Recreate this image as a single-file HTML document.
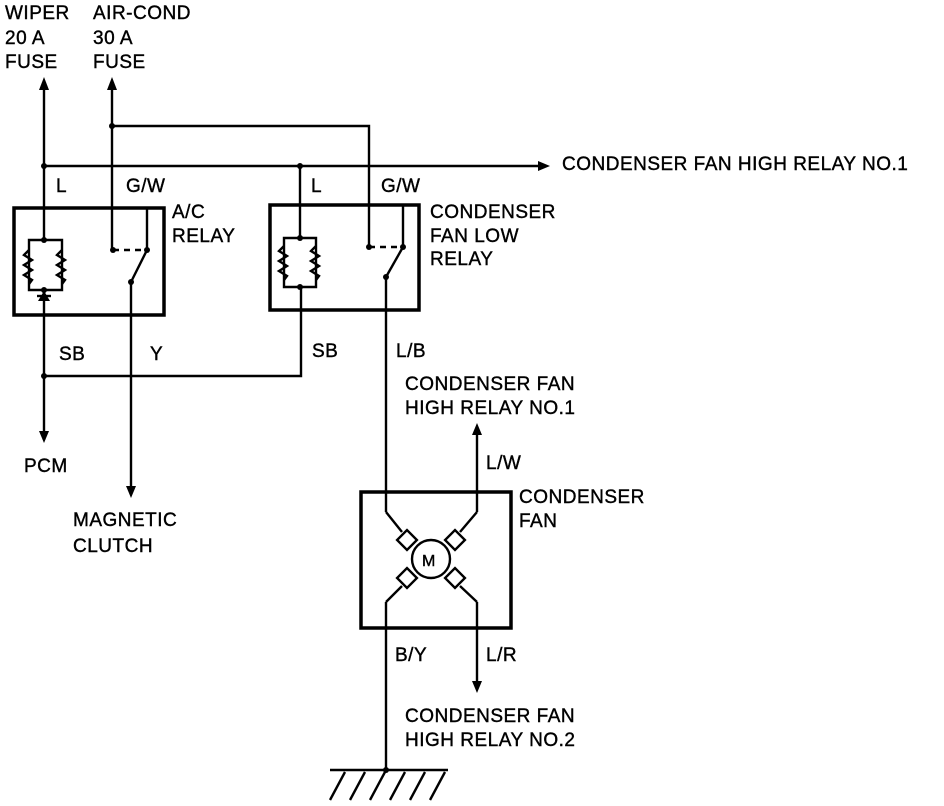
<!DOCTYPE html>
<html><head><style>
html,body{margin:0;padding:0;background:#fff;}
svg{display:block;}
text{font-family:"Liberation Sans",sans-serif;font-size:19px;letter-spacing:0.5px;fill:#000;stroke:#000;stroke-width:0.4px;}
</style></head><body>
<svg width="944" height="806" viewBox="0 0 944 806" xmlns="http://www.w3.org/2000/svg">
<g stroke="#000" stroke-width="2.4" fill="none">
<line x1="44" y1="88" x2="44" y2="240"/>
<line x1="112" y1="88" x2="112" y2="250"/>
<polyline points="112,126 369,126 369,247"/>
<line x1="44" y1="166" x2="540" y2="166"/>
<line x1="300" y1="166" x2="300" y2="238"/>
<rect x="14" y="208" width="150" height="107" stroke-width="3.5"/>
<polyline points="44,240 29,240 29,290 44,290"/>
<polyline points="44,240 62,240 62,290 44,290"/>
<polyline points="29,250 24,255 32,260 24,265 32,270 24,275 32,280 29,284"/>
<polyline points="62,250 57,255 65,260 57,265 65,270 57,275 65,280 62,284"/>
<line x1="44" y1="290" x2="44" y2="440"/>
<line x1="37" y1="296" x2="51" y2="296"/>
<line x1="113" y1="250" x2="147" y2="250" stroke-dasharray="6,5"/>
<line x1="147" y1="208" x2="147" y2="250"/>
<line x1="147" y1="250" x2="131" y2="282"/>
<line x1="131" y1="282" x2="131" y2="494"/>
<polyline points="44,376 301,376 301,287"/>
<rect x="270" y="205" width="149" height="105" stroke-width="3.5"/>
<polyline points="300,238 284,238 284,287 300,287"/>
<polyline points="300,238 316,238 316,287 300,287"/>
<polyline points="284,246 279,251 287,256 279,261 287,266 279,271 287,276 284,280"/>
<polyline points="316,246 311,251 319,256 311,261 319,266 311,271 319,276 316,280"/>
<line x1="369" y1="247" x2="403" y2="247" stroke-dasharray="6,5"/>
<line x1="403" y1="205" x2="403" y2="247"/>
<line x1="403" y1="247" x2="386" y2="277"/>
<line x1="386" y1="277" x2="386" y2="512"/>
<rect x="361" y="492" width="150" height="136" stroke-width="3.5"/>
<line x1="477" y1="430" x2="477" y2="512"/>
<line x1="386" y1="512" x2="402" y2="532"/>
<line x1="477" y1="512" x2="460" y2="532"/>
<line x1="386" y1="602" x2="402" y2="586"/>
<line x1="477" y1="602" x2="460" y2="586"/>
<circle cx="431" cy="559" r="19"/>
<rect x="400" y="533" width="14" height="14" transform="rotate(45 407 540)" fill="#fff"/>
<rect x="448" y="533" width="14" height="14" transform="rotate(45 455 540)" fill="#fff"/>
<rect x="400" y="571" width="14" height="14" transform="rotate(45 407 578)" fill="#fff"/>
<rect x="448" y="571" width="14" height="14" transform="rotate(45 455 578)" fill="#fff"/>
<line x1="386" y1="602" x2="386" y2="770"/>
<line x1="477" y1="602" x2="477" y2="685"/>
<line x1="330" y1="770" x2="448" y2="770"/>
<line x1="345" y1="772" x2="330" y2="800"/>
<line x1="365" y1="772" x2="350" y2="800"/>
<line x1="385" y1="772" x2="370" y2="800"/>
<line x1="405" y1="772" x2="390" y2="800"/>
<line x1="425" y1="772" x2="410" y2="800"/>
<line x1="445" y1="772" x2="430" y2="800"/>
</g>
<g fill="#000">
<polygon points="44,77 39,90 49,90"/>
<polygon points="112,77 107,90 117,90"/>
<polygon points="550,166 538,161 538,171"/>
<polygon points="44,443 39,431 49,431"/>
<polygon points="131,498 126,486 136,486"/>
<polygon points="477,423 472,435 482,435"/>
<polygon points="477,693 472,681 482,681"/>
<polygon points="44,291 38,301 50,301"/>
<circle cx="44" cy="166" r="3"/><circle cx="300" cy="166" r="3"/><circle cx="112" cy="126" r="3"/>
<circle cx="44" cy="240" r="3"/><circle cx="44" cy="290" r="3"/>
<circle cx="113" cy="250" r="3"/><circle cx="147" cy="250" r="3"/><circle cx="131" cy="282" r="3"/>
<circle cx="300" cy="238" r="3"/><circle cx="300" cy="287" r="3"/>
<circle cx="369" cy="247" r="3"/><circle cx="403" cy="247" r="3"/><circle cx="386" cy="277" r="3"/>
<circle cx="44" cy="376" r="3"/><circle cx="386" cy="770" r="3"/>
</g>
<text x="5" y="19">WIPER</text><text x="5" y="44">20 A</text><text x="5" y="68">FUSE</text>
<text x="93" y="19">AIR-COND</text><text x="93" y="44">30 A</text><text x="93" y="68">FUSE</text>
<text x="562" y="170">CONDENSER FAN HIGH RELAY NO.1</text>
<text x="56" y="192">L</text><text x="126" y="192">G/W</text>
<text x="311" y="192">L</text><text x="381" y="192">G/W</text>
<text x="172" y="218">A/C</text><text x="172" y="242">RELAY</text>
<text x="430" y="218">CONDENSER</text><text x="430" y="242">FAN LOW</text><text x="430" y="265">RELAY</text>
<text x="59" y="360">SB</text><text x="150" y="360">Y</text>
<text x="312" y="357">SB</text><text x="396" y="357">L/B</text>
<text x="24" y="472">PCM</text>
<text x="73" y="526">MAGNETIC</text><text x="73" y="552">CLUTCH</text>
<text x="405" y="390">CONDENSER FAN</text><text x="405" y="414">HIGH RELAY NO.1</text>
<text x="486" y="469">L/W</text>
<text x="519" y="503">CONDENSER</text><text x="519" y="527">FAN</text>
<text x="395" y="661">B/Y</text><text x="486" y="661">L/R</text>
<text x="405" y="722">CONDENSER FAN</text><text x="405" y="746">HIGH RELAY NO.2</text>
<text x="422" y="566" style="font-size:16px;letter-spacing:0">M</text>
</svg>
</body></html>
